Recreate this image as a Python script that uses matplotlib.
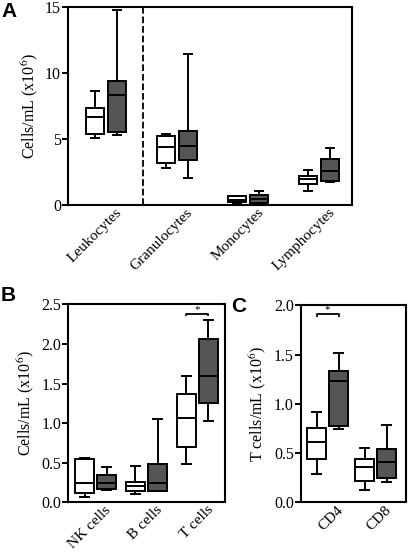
import numpy as np
import matplotlib.pyplot as plt
from matplotlib.transforms import ScaledTranslation

plt.rcParams['font.family'] = ['Liberation Serif', 'DejaVu Serif']
plt.rcParams['mathtext.fontset'] = 'stix'

# five-number summaries: (whisker low, Q1, median, Q3, whisker high)
a_cats = ['Leukocytes', 'Granulocytes', 'Monocytes', 'Lymphocytes']
a_white = [(5.06, 5.41, 6.65, 7.34, 8.65),
           (2.81, 3.21, 4.40, 5.19, 5.36),
           (0.13, 0.23, 0.38, 0.66, 0.68),
           (1.09, 1.62, 1.97, 2.23, 2.66)]
a_dark = [(5.31, 5.51, 8.37, 9.39, 14.75),
          (2.02, 3.44, 4.50, 5.64, 11.41),
          (0.10, 0.15, 0.46, 0.76, 1.09),
          (1.75, 1.80, 2.58, 3.47, 4.30)]

b_cats = ['NK cells', 'B cells', 'T cells']
b_white = [(0.067, 0.118, 0.25, 0.543, 0.564),
           (0.10, 0.147, 0.20, 0.26, 0.46),
           (0.48, 0.70, 1.07, 1.37, 1.59)]
b_dark = [(0.156, 0.17, 0.24, 0.34, 0.44),
          (0.14, 0.147, 0.25, 0.48, 1.05),
          (1.03, 1.26, 1.59, 2.06, 2.30)]

c_cats = ['CD4', 'CD8']
c_white = [(0.29, 0.44, 0.61, 0.75, 0.92),
           (0.12, 0.22, 0.355, 0.44, 0.55)]
c_dark = [(0.74, 0.77, 1.23, 1.33, 1.52),
          (0.21, 0.25, 0.405, 0.54, 0.78)]

W, H = 408, 554
fig = plt.figure(figsize=(W / 100, H / 100), dpi=100)
lbl_off = ScaledTranslation(9 / 100, -1 / 100, fig.dpi_scale_trans)


def to_stats(rows):
    return [dict(whislo=r[0], q1=r[1], med=r[2], q3=r[3], whishi=r[4], fliers=[])
            for r in rows]


def panel(rect, cats, white, dark, off, width, xlim, ylim, yticks, ylabel, fmt):
    ax = fig.add_axes(rect)
    pos = np.arange(len(cats))
    for rows, shift, fc in [(white, -off, 'white'), (dark, off, '#555555')]:
        ax.bxp(to_stats(rows), positions=pos + shift, widths=width,
               showfliers=False, patch_artist=True,
               boxprops=dict(facecolor=fc, edgecolor='black', linewidth=1.4),
               medianprops=dict(color='black', linewidth=1.4),
               whiskerprops=dict(color='black', linewidth=1.4),
               capprops=dict(color='black', linewidth=1.4),
               capwidths=width * 0.45)
    ax.set_xlim(*xlim)
    ax.set_ylim(*ylim)
    ax.set_yticks(yticks)
    ax.set_yticklabels([fmt.format(t) for t in yticks], fontsize=11.5)
    ax.set_xticks(pos)
    ax.set_xticklabels([])
    for p, c in zip(pos, cats):
        ax.text(p, 0, c, transform=ax.get_xaxis_transform() + lbl_off,
                rotation=45, ha='right', va='top', rotation_mode='anchor',
                fontsize=11)
    ax.tick_params(axis='x', length=0)
    ax.tick_params(axis='y', length=4, width=1.4, pad=1)
    for s in ax.spines.values():
        s.set_linewidth(1.5)
    ax.set_ylabel(ylabel, fontsize=11.5, labelpad=4)
    return ax


axA = panel([68 / W, 1 - 205 / H, 284 / W, 198 / H], a_cats, a_white, a_dark,
            0.155, 0.254, (-0.536, 3.464), (0, 15), [0, 5, 10, 15],
            'Cells/mL (x10$^{6}$)', '{:g}')
axA.axvline(0.52, color='black', linestyle='--', linewidth=1.3)

axB = panel([68 / W, 1 - 502.3 / H, 157 / W, 198 / H], b_cats, b_white, b_dark,
            0.216, 0.36, (-0.54, 2.54), (0, 2.5), [0, 0.5, 1.0, 1.5, 2.0, 2.5],
            'Cells/mL (x10$^{6}$)', '{:.1f}')
axB.plot([1.784, 1.784, 2.216, 2.216], [2.36, 2.38, 2.38, 2.36], color='black',
         linewidth=1.3)
axB.text(2.0, 2.38, '*', ha='center', va='bottom', fontsize=8)

axC = panel([300.7 / W, 1 - 502.3 / H, 105.3 / W, 197 / H], c_cats, c_white, c_dark,
            0.23, 0.40, (-0.56, 1.63), (0, 2.0), [0, 0.5, 1.0, 1.5, 2.0],
            'T cells/mL (x10$^{6}$)', '{:.1f}')
axC.plot([-0.23, -0.23, 0.23, 0.23], [1.895, 1.91, 1.91, 1.895], color='black',
         linewidth=1.3)
axC.text(0.0, 1.91, '*', ha='center', va='bottom', fontsize=8)

for label, x, y in [('A', 1, 2), ('B', 1, 286), ('C', 231, 297)]:
    fig.text(x / W, 1 - y / H, label, ha='left', va='top', fontsize=15,
             fontweight='heavy', family='Liberation Sans')

fig.savefig('out.png', dpi=100)
